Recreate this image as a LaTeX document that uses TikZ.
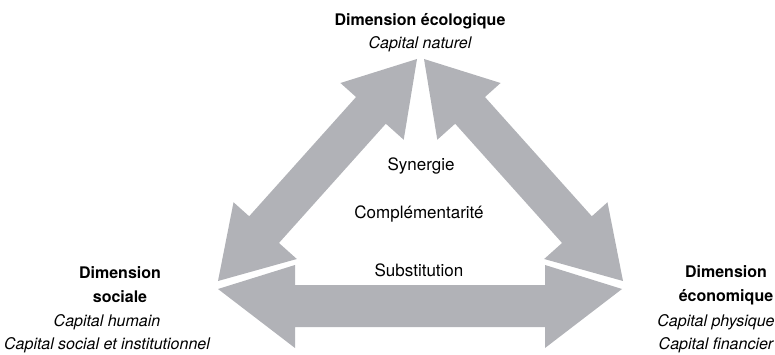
\documentclass[tikz,border=0pt]{standalone}
\usepackage{fontspec}
\setmainfont{TeX Gyre Heros}
\usetikzlibrary{calc}

\definecolor{arrowgray}{RGB}{177,178,183}

% broad double arrow from tip #1 to tip #2:
% shaft sides #3/#4, head sides #5/#6, head length #7
\newcommand{\dblarrow}[7]{%
  \fill[arrowgray] (#1)
    -- ($(#1)!#7!(#2)!#6!90:(#2)$) -- ($(#1)!#7!(#2)!#4!90:(#2)$)
    -- ($(#2)!#7!(#1)!#4!90:(#2)$) -- ($(#2)!#7!(#1)!#6!90:(#2)$)
    -- (#2)
    -- ($(#2)!#7!(#1)!#5!90:(#2)$) -- ($(#2)!#7!(#1)!#3!90:(#2)$)
    -- ($(#1)!#7!(#2)!#3!90:(#2)$) -- ($(#1)!#7!(#2)!#5!90:(#2)$)
    -- cycle;}

\begin{document}
\begin{tikzpicture}[x=1pt, y=-1pt,
  dim/.style={align=center, inner sep=0pt, font=\fontsize{16}{24}\selectfont\bfseries},
  capital/.style={align=center, inner sep=0pt, font=\fontsize{16}{23}\selectfont\itshape},
  link/.style={inner sep=0pt, font=\fontsize{17}{20}\selectfont}
]
\useasboundingbox (0,0) rectangle (775,355);

% tips of the arrows
\coordinate (topL) at (417,59);
\coordinate (topR) at (424,59);
\coordinate (socD) at (218,281);
\coordinate (socH) at (218,289);
\coordinate (ecoD) at (623,281);
\coordinate (ecoH) at (622,289);

\dblarrow{topL}{socD}{-20pt}{20pt}{-41pt}{44pt}{69pt}
\dblarrow{ecoD}{topR}{-20pt}{20pt}{-41pt}{44pt}{69pt}
\dblarrow{socH}{ecoH}{-38pt}{4pt}{-59pt}{24pt}{77pt}

\node[dim] (eco) at (420,21) {Dimension écologique};
\node[capital] (ecoCap) at (420,44) {Capital naturel};
\node[dim] (soc) at (120,285) {Dimension\\sociale};
\node[capital] (socCap) at (107,334) {Capital humain\\Capital social et institutionnel};
\node[dim] (econ) at (726,285) {Dimension\\économique};
\node[capital] (econCap) at (716,334) {Capital physique\\Capital financier};

\node[link] (syn) at (421,166) {Synergie};
\node[link] (comp) at (419,214) {Complémentarité};
\node[link] (subst) at (419,270) {Substitution};

\end{tikzpicture}
\end{document}
